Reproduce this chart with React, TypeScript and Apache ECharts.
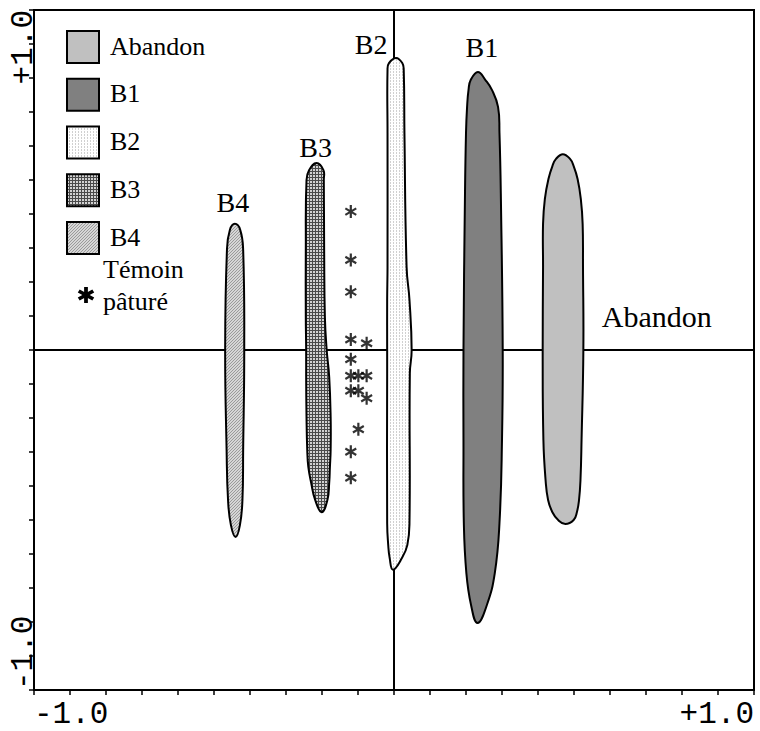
import React, { useEffect, useRef } from "react";
import * as echarts from "echarts";

// ---- data (in axis units) ----
const groupNames = ["Abandon", "B1", "B2", "B3", "B4"];

// outline rows: [axis-2 value, left edge on axis 1, right edge on axis 1]
const abandonRows = [
  [0.576, 0.469, 0.469],
  [0.562, 0.45, 0.489],
  [0.541, 0.44, 0.499],
  [0.503, 0.429, 0.51],
  [0.444, 0.419, 0.519],
  [0.371, 0.414, 0.524],
  [0.244, 0.414, 0.525],
  [0.0, 0.413, 0.526],
  [-0.265, 0.415, 0.521],
  [-0.382, 0.421, 0.518],
  [-0.441, 0.428, 0.514],
  [-0.477, 0.44, 0.508],
  [-0.5, 0.456, 0.499],
  [-0.512, 0.476, 0.476],
];
const b1Rows = [
  [0.818, 0.233, 0.233],
  [0.794, 0.213, 0.254],
  [0.765, 0.207, 0.272],
  [0.715, 0.203, 0.289],
  [0.638, 0.2, 0.293],
  [0.441, 0.197, 0.297],
  [0.0, 0.193, 0.302],
  [-0.265, 0.193, 0.3],
  [-0.509, 0.194, 0.293],
  [-0.656, 0.201, 0.28],
  [-0.75, 0.214, 0.258],
  [-0.803, 0.232, 0.232],
];
const b2Rows = [
  [0.859, 0.006, 0.006],
  [0.844, -0.014, 0.023],
  [0.824, -0.018, 0.027],
  [0.638, -0.018, 0.029],
  [0.244, -0.018, 0.035],
  [0.147, -0.019, 0.043],
  [0.0, -0.019, 0.049],
  [-0.068, -0.019, 0.044],
  [-0.509, -0.019, 0.043],
  [-0.574, -0.016, 0.037],
  [-0.612, -0.012, 0.022],
  [-0.646, -0.003, -0.003],
];
const b3Rows = [
  [0.55, -0.215, -0.215],
  [0.529, -0.236, -0.196],
  [0.5, -0.243, -0.195],
  [0.294, -0.245, -0.194],
  [0.097, -0.245, -0.192],
  [0.0, -0.244, -0.187],
  [-0.079, -0.244, -0.18],
  [-0.197, -0.243, -0.176],
  [-0.294, -0.241, -0.176],
  [-0.344, -0.238, -0.178],
  [-0.391, -0.23, -0.18],
  [-0.441, -0.219, -0.185],
  [-0.477, -0.201, -0.201],
];
const b4Rows = [
  [0.371, -0.442, -0.442],
  [0.353, -0.456, -0.427],
  [0.294, -0.464, -0.419],
  [0.0, -0.469, -0.416],
  [-0.294, -0.465, -0.419],
  [-0.441, -0.461, -0.421],
  [-0.515, -0.453, -0.428],
  [-0.55, -0.44, -0.44],
];

// "Témoin pâturé" plots
const witnessX = [-0.12, -0.12, -0.12, -0.12, -0.076, -0.12, -0.12, -0.099, -0.076, -0.12, -0.099, -0.076, -0.099, -0.12, -0.12];
const witnessY = [0.407, 0.265, 0.171, 0.031, 0.02, -0.027, -0.076, -0.076, -0.076, -0.12, -0.12, -0.142, -0.233, -0.299, -0.376];
const witnessLabel = ["Témoin", "pâturé"];

const xTickLabels = ["-1.0", "+1.0"];
const yTickLabels = ["-1.0", "+1.0"];

// ---- styles ----
function tile(size: number, bg: string, fg: string, px: number[][]) {
  const c = document.createElement("canvas");
  c.width = size;
  c.height = size;
  const ctx = c.getContext("2d")!;
  ctx.fillStyle = bg;
  ctx.fillRect(0, 0, size, size);
  ctx.fillStyle = fg;
  px.forEach(([x, y]) => ctx.fillRect(x, y, 1, 1));
  return { image: c.toDataURL(), repeat: "repeat", imageWidth: size, imageHeight: size } as any;
}

const SERIF = "Liberation Serif";
const MONO = "Liberation Mono";

const ASTERISK =
  "M-1.1,-6.3L1.1,-6.3L1.1,6.3L-1.1,6.3Z M4.906,4.103L-6.006,-2.197L-4.906,-4.103L6.006,2.197Z M-6.006,2.197L4.906,-4.103L6.006,-2.197L-4.906,4.103Z";
const ASTERISK_BOLD =
  "M-1.8,-8L1.8,-8L1.8,8L-1.8,8Z M6.028,5.559L-7.828,-2.441L-6.028,-5.559L7.828,2.441Z M-7.828,2.441L6.028,-5.559L7.828,-2.441L-6.028,5.559Z";

export default function App() {
  const ref = useRef<HTMLDivElement>(null);

  useEffect(() => {
    if (!ref.current) return;
    echarts.graphic.registerShape("asteriskBold", echarts.graphic.extendPath(ASTERISK_BOLD, {}) as any);

    const fills: Record<string, any> = {
      Abandon: "#c0c0c0",
      B1: "#808080",
      B2: tile(3, "#ffffff", "#d0d0d0", [[0, 0], [0, 2]]),
      B3: tile(3, "#d2d2d2", "#4a4a4a", [[0, 0], [1, 0], [2, 0], [0, 1], [0, 2]]),
      B4: tile(3, "#d6d6d6", "#9a9a9a", [[0, 2], [1, 1], [2, 0]]),
    };
    const rowsByName: Record<string, number[][]> = {
      Abandon: abandonRows,
      B1: b1Rows,
      B2: b2Rows,
      B3: b3Rows,
      B4: b4Rows,
    };
    // label placement relative to the top of each envelope (pixels)
    const labelOffset: Record<string, number[]> = {
      Abandon: [94, 162],
      B1: [4, -24],
      B2: [-25, -13],
      B3: [-1, -16],
      B4: [-2, -21],
    };
    const labelSize: Record<string, number> = { Abandon: 30, B1: 28, B2: 28, B3: 28, B4: 28 };

    const shapeSeries = groupNames.map((name) => {
      const rows = rowsByName[name];
      return {
        type: "custom",
        name,
        z: 3,
        silent: true,
        data: rows,
        renderItem: (params: any, api: any) => {
          if (params.dataIndex !== 0) return null;
          const pts: number[][] = [];
          const top = rows[0];
          const bot = rows[rows.length - 1];
          pts.push(api.coord([(top[1] + top[2]) / 2, top[0]]));
          for (let i = 1; i < rows.length - 1; i++) pts.push(api.coord([rows[i][2], rows[i][0]]));
          pts.push(api.coord([(bot[1] + bot[2]) / 2, bot[0]]));
          for (let i = rows.length - 2; i >= 1; i--) pts.push(api.coord([rows[i][1], rows[i][0]]));
          const tp = pts[0];
          const off = labelOffset[name];
          return {
            type: "group",
            children: [
              {
                type: "polygon",
                shape: { points: pts, smooth: 0.45 },
                style: { fill: fills[name], stroke: "#000", lineWidth: 2 },
              },
              {
                type: "text",
                x: tp[0] + off[0],
                y: tp[1] + off[1],
                style: {
                  text: name,
                  fontFamily: SERIF,
                  fontSize: labelSize[name],
                  fill: "#000",
                  align: "center",
                  verticalAlign: "middle",
                  textAlign: "center",
                  textVerticalAlign: "middle",
                },
              },
            ],
          };
        },
      };
    });

    const zeroLines = {
      type: "custom",
      name: "axes0",
      z: 1,
      silent: true,
      data: [[0, 0]],
      renderItem: (_p: any, api: any) => {
        const a = api.coord([-1, 0]);
        const b = api.coord([1, 0]);
        const c = api.coord([0, -1]);
        const d = api.coord([0, 1]);
        return {
          type: "group",
          children: [
            { type: "line", shape: { x1: a[0], y1: a[1], x2: b[0], y2: b[1] }, style: { stroke: "#000", lineWidth: 2 } },
            { type: "line", shape: { x1: c[0], y1: c[1], x2: d[0], y2: d[1] }, style: { stroke: "#000", lineWidth: 2 } },
          ],
        };
      },
    };

    const witnessSeries = {
      type: "scatter",
      name: witnessLabel.join(" "),
      z: 5,
      silent: true,
      symbol: "path://" + ASTERISK,
      symbolSize: [12, 13],
      itemStyle: { color: "#000" },
      data: witnessX.map((x, i) => [x, witnessY[i]]),
    };

    // legend drawn as graphic
    const legendEls: any[] = [];
    groupNames.forEach((name, i) => {
      const y = 31 + i * 47.75;
      legendEls.push({
        type: "rect",
        shape: { x: 67, y, width: 32, height: 32 },
        style: { fill: fills[name], stroke: "#000", lineWidth: 2 },
      });
      legendEls.push({
        type: "text",
        x: 110,
        y: y + 15,
        style: {
          text: name,
          fontFamily: SERIF,
          fontSize: 26,
          fill: "#000",
          textAlign: "left",
          textVerticalAlign: "middle",
        },
      });
    });
    legendEls.push({
      type: "asteriskBold",
      x: 86,
      y: 295,
      scaleX: 1.05,
      scaleY: 1.0,
      style: { fill: "#000" },
    });
    legendEls.push({
      type: "text",
      x: 103,
      y: 269,
      style: { text: witnessLabel[0], fontFamily: SERIF, fontSize: 26, fill: "#000", textAlign: "left", textVerticalAlign: "middle" },
    });
    legendEls.push({
      type: "text",
      x: 103,
      y: 301,
      style: { text: witnessLabel[1], fontFamily: SERIF, fontSize: 26, fill: "#000", textAlign: "left", textVerticalAlign: "middle" },
    });

    const fmt = (labels: string[]) => (v: number) =>
      v <= -0.9999 ? labels[0] : v >= 0.9999 ? labels[1] : "";

    const chart = echarts.init(ref.current, null, { renderer: "svg" });
    chart.setOption({
      animation: false,
      backgroundColor: "#fff",
      grid: {
        left: 34,
        top: 10,
        width: 720,
        height: 680,
        show: true,
        borderColor: "#000",
        borderWidth: 2,
        backgroundColor: "transparent",
      },
      xAxis: {
        type: "value",
        min: -1,
        max: 1,
        interval: 0.1,
        position: "bottom",
        axisLine: { show: false, onZero: false },
        splitLine: { show: false },
        axisTick: { show: true, length: 5, lineStyle: { color: "#000", width: 1.5 } },
        axisLabel: {
          show: true,
          formatter: fmt(xTickLabels),
          fontFamily: MONO,
          fontSize: 31,
          color: "#000",
          margin: 9,
          showMinLabel: true,
          showMaxLabel: true,
          alignMinLabel: "left",
          alignMaxLabel: "right",
        },
      },
      yAxis: {
        type: "value",
        min: -1,
        max: 1,
        interval: 0.1,
        position: "left",
        axisLine: { show: false, onZero: false },
        splitLine: { show: false },
        axisTick: { show: true, length: 5, lineStyle: { color: "#000", width: 1.5 } },
        axisLabel: {
          show: true,
          rotate: 90,
          formatter: fmt(yTickLabels),
          fontFamily: MONO,
          fontSize: 31,
          color: "#000",
          margin: -5,
          showMinLabel: true,
          showMaxLabel: true,
          alignMinLabel: "left",
          alignMaxLabel: "right",
        },
      },
      series: [zeroLines, ...shapeSeries, witnessSeries],
      graphic: { elements: legendEls },
    });
    return () => chart.dispose();
  }, []);

  return (
    <div
      ref={ref}
      style={{ position: "absolute", left: 0, top: 0, width: 760, height: 731, background: "#fff" }}
    />
  );
}
